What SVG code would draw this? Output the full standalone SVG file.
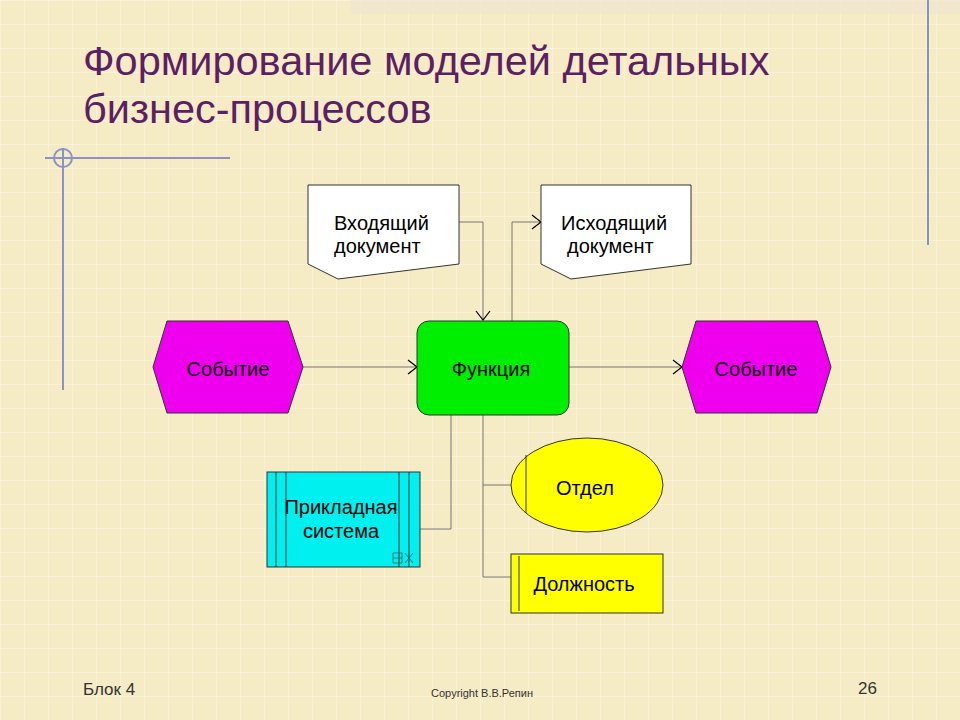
<svg xmlns="http://www.w3.org/2000/svg" width="960" height="720" viewBox="0 0 960 720">
<defs>
<pattern id="grid" width="24" height="24" patternUnits="userSpaceOnUse">
<rect width="24" height="24" fill="#f5ebc4"/>
<path d="M0 0H24M0 0V24" stroke="#f9f2d8" stroke-width="2"/>
</pattern>
<marker id="chev" markerWidth="12" markerHeight="16" refX="10" refY="8" orient="auto" markerUnits="userSpaceOnUse">
<path d="M1 1L10 8L1 15" fill="none" stroke="#000" stroke-width="1.2"/>
</marker>
<style>
.t{font-family:"Liberation Sans",Arial,sans-serif;font-size:20px;fill:#000}
.c{fill:none;stroke:#777;stroke-width:1}
.s{stroke:#333;stroke-width:1}
</style>
</defs>
<rect width="960" height="720" fill="url(#grid)"/>
<rect x="350" y="0" width="610" height="14" fill="#eee6d0" opacity="0.7"/>
<g stroke="#8a93c8" stroke-width="2" fill="none">
<line x1="45" y1="158" x2="230" y2="158"/>
<line x1="63" y1="148" x2="63" y2="390"/>
<circle cx="63" cy="158" r="9"/>
<line x1="928" y1="0" x2="928" y2="245"/>
</g>
<g font-family="Liberation Sans,Arial,sans-serif" font-size="41.5" fill="#5c1f66">
<text x="83" y="75">Формирование моделей детальных</text>
<text x="83" y="123">бизнес-процессов</text>
</g>
<g id="connectors">
<path class="c" d="M459 222H483V320" marker-end="url(#chev)"/>
<path class="c" d="M512 321V222H541" marker-end="url(#chev)"/>
<path class="c" d="M303 367H417" marker-end="url(#chev)"/>
<path class="c" d="M569 367H682" marker-end="url(#chev)"/>
<path class="c" d="M451 415V529H420"/>
<path class="c" d="M483 415V577H511M483 485H511"/>
</g>
<g id="doc-in">
<path class="s" fill="#fff" d="M308 185H459V264L338 279L308 264Z"/>
<text class="t" x="334" y="230" font-size="18">Входящий</text><text class="t" x="334" y="253" font-size="18">документ</text>
</g>
<g id="doc-out">
<path class="s" fill="#fff" d="M541 185H691V264L571 279L541 264Z"/>
<text class="t" x="561" y="230" font-size="18">Исходящий</text><text class="t" x="567" y="253" font-size="18">документ</text>
</g>
<g id="event-in">
<path class="s" fill="#ee00ee" d="M153 367L167 321H288L303 367L288 413H167Z"/>
<text class="t" x="228" y="376" text-anchor="middle">Событие</text>
</g>
<g id="function">
<rect class="s" x="417" y="321" width="152" height="94" rx="12" fill="#00ee00"/>
<text class="t" x="491" y="376" text-anchor="middle">Функция</text>
</g>
<g id="event-out">
<path class="s" fill="#ee00ee" d="M682 367L696 321H817L831 367L817 413H696Z"/>
<text class="t" x="756" y="376" text-anchor="middle">Событие</text>
</g>
<g id="system">
<rect class="s" x="267" y="472" width="153" height="95" fill="#00f0f0"/>
<path class="s" d="M276 472V567M286 472V567M399 472V567M409 472V567"/>
<path d="M393 553H402V563H393ZM393 558H402M405 553L413 563M413 553L405 563" fill="none" stroke="#555" stroke-width="0.8"/>
<text class="t" x="341" y="514" text-anchor="middle">Прикладная</text>
<text class="t" x="341" y="538" text-anchor="middle">система</text>
</g>
<g id="dept">
<ellipse class="s" cx="587" cy="485" rx="76" ry="47" fill="#ffff00"/>
<line class="s" x1="526" y1="455" x2="526" y2="513"/>
<text class="t" x="585" y="495" text-anchor="middle">Отдел</text>
</g>
<g id="position">
<rect class="s" x="511" y="554" width="152" height="59" fill="#ffff00"/>
<line class="s" x1="519" y1="556" x2="519" y2="611"/>
<text class="t" x="584" y="591" text-anchor="middle">Должность</text>
</g>
<g font-family="Liberation Sans,Arial,sans-serif" fill="#333">
<text x="83" y="695" font-size="17">Блок 4</text>
<text x="482" y="697" font-size="11" text-anchor="middle">Copyright В.В.Репин</text>
<text x="858" y="694" font-size="17">26</text>
</g>
</svg>
